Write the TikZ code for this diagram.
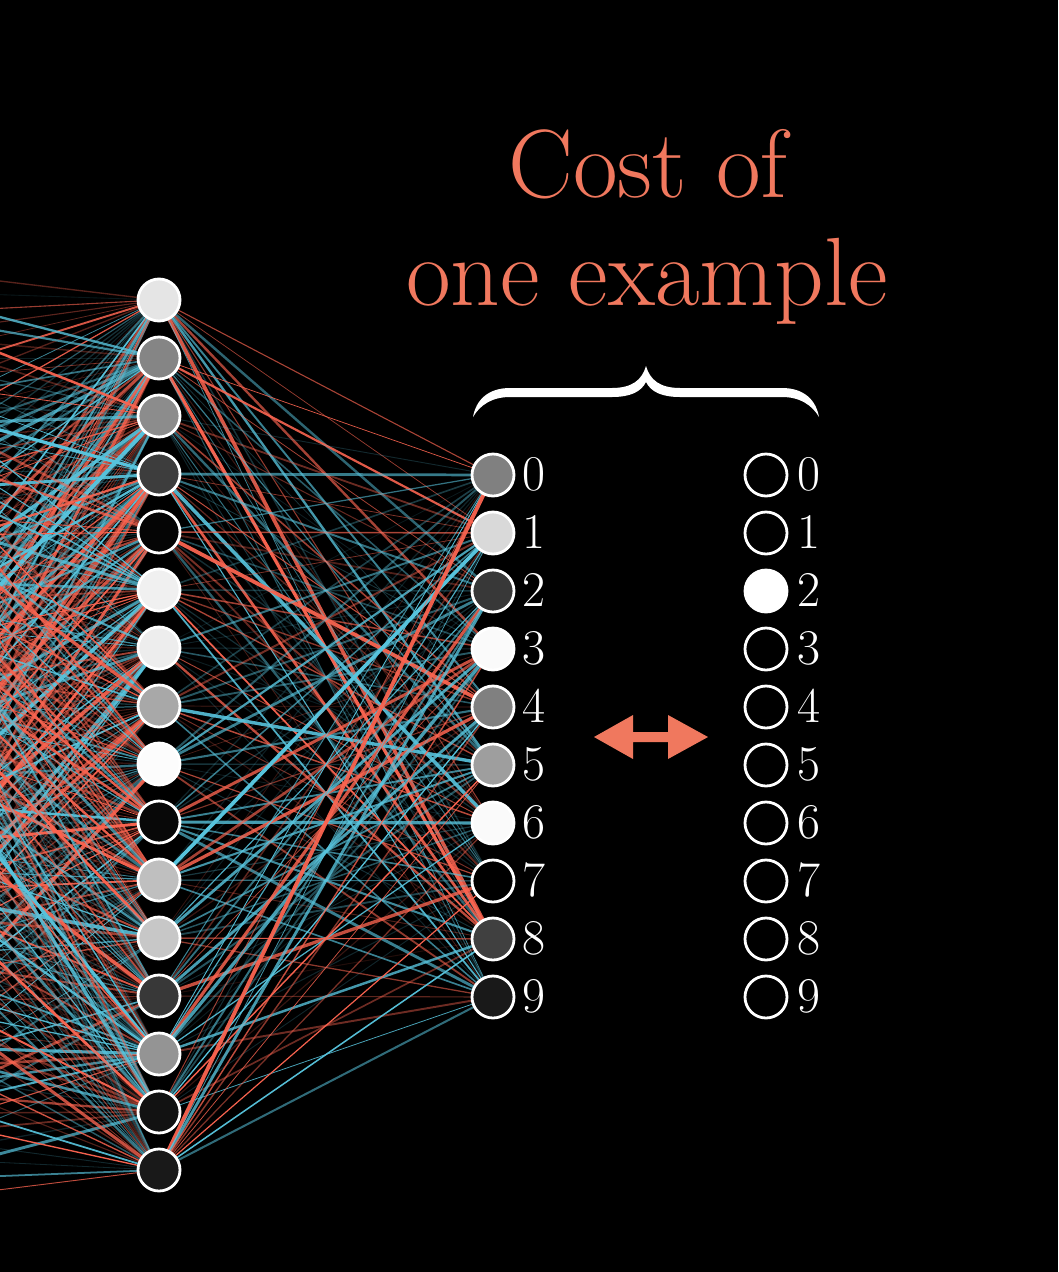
\documentclass[tikz,border=0pt]{standalone}
\usepackage{fontspec}
\pgfdeclarelayer{bg}
\pgfdeclarelayer{edges}
\pgfsetlayers{bg,edges,main}
\definecolor{netred}{RGB}{250,100,80}
\definecolor{netblue}{RGB}{88,196,221}
\definecolor{titlered}{RGB}{240,120,94}
\tikzset{
  neuron/.style={circle, draw=white, line width=2.8pt, minimum size=42pt, inner sep=0pt},
  digit/.style={anchor=base west, inner sep=0pt, text=white, font=\fontsize{50}{60}\selectfont},
  title/.style={anchor=base, inner sep=0pt, text=titlered, font=\fontsize{97}{110}\selectfont},
  edge/.style={line cap=round},
}
\newcommand{\myedge}[2]{%
  \pgfmathsetmacro\op{0.12+0.88*rnd^1.1}%
  \pgfmathsetmacro\lw{0.7+3.4*\op*rnd}%
  \pgfmathtruncatemacro\cc{rnd<0.5}%
  \ifnum\cc=1 \def\col{netred}\else\def\col{netblue}\fi
  \draw[edge, draw=\col, draw opacity=\op, line width=\lw pt] (#1) -- (#2);%
}
\begin{document}
\begin{tikzpicture}[x=1pt, y=-1pt]
\begin{pgfonlayer}{bg}
  \fill[black] (0,0) rectangle (1058,1272);
\end{pgfonlayer}
\useasboundingbox (0,0) rectangle (1058,1272);

% input layer (off picture)
\foreach \i in {1,...,28} {
  \coordinate (in\i) at (-260, {250 + 36*(\i-1)});
}

% hidden layer
\foreach \v [count=\j] in {0.90,0.52,0.55,0.24,0.02,0.94,0.93,0.66,0.99,0.03,0.75,0.78,0.22,0.58,0.07,0.10} {
  \node[neuron, fill={rgb,1:red,\v;green,\v;blue,\v}] (h\j) at (159, {300 + 58*(\j-1)}) {};
}

% output layer
\foreach \v [count=\k from 0] in {0.50,0.85,0.22,0.98,0.50,0.62,0.98,0.0,0.25,0.10} {
  \node[neuron, fill={rgb,1:red,\v;green,\v;blue,\v}] (o\k) at (493, {475 + 58*\k}) {};
  \node[digit] (ol\k) at (522, {490 + 58*\k}) {\k};
}

% target layer
\foreach \v [count=\k from 0] in {0,0,1,0,0,0,0,0,0,0} {
  \node[neuron, fill={rgb,1:red,\v;green,\v;blue,\v}] (t\k) at (766, {475 + 58*\k}) {};
  \node[digit] (tl\k) at (797, {490 + 58*\k}) {\k};
}

% connections
\begin{pgfonlayer}{edges}
  \clip (0,0) rectangle (1058,1272);
  \pgfmathsetseed{4242}
  \foreach \j in {1,...,16} {
    \foreach \i in {1,...,28} {
      \myedge{in\i}{h\j}
    }
  }
  \foreach \j in {1,...,16} {
    \foreach \k in {0,...,9} {
      \myedge{h\j}{o\k}
    }
  }
\end{pgfonlayer}

% title
\node[title] (t1) at (648,197) {Cost of};
\node[title] (t2) at (647,305) {one example};

% brace
\fill[white] (473,417) .. controls (476,400) and (488,388) .. (510,388) -- (612,388)
  .. controls (632,388) and (642,380) .. (646,366)
  .. controls (650,380) and (660,388) .. (680,388) -- (782,388)
  .. controls (804,388) and (816,400) .. (819,417)
  .. controls (812,405) and (800,397) .. (782,397) -- (680,397)
  .. controls (662,397) and (651,392) .. (646,382)
  .. controls (641,392) and (630,397) .. (612,397) -- (510,397)
  .. controls (492,397) and (480,405) .. (473,417) -- cycle;

% double arrow
\fill[titlered] (594,737) -- (633,715) -- (633,732) -- (668,732) -- (668,715) -- (708,737)
  -- (668,759) -- (668,742) -- (633,742) -- (633,759) -- cycle;
\end{tikzpicture}
\end{document}
